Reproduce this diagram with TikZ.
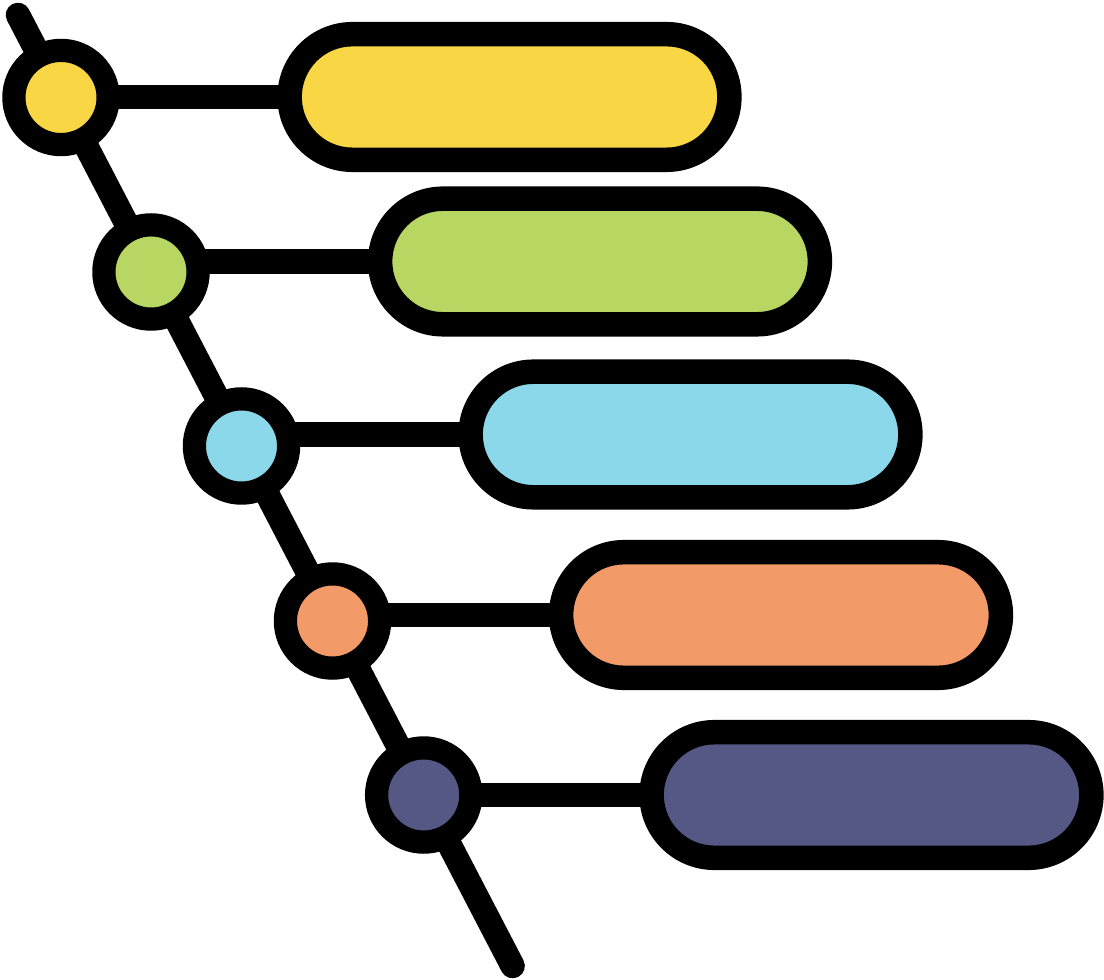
\documentclass[tikz,border=0pt]{standalone}
\usepackage{tikz}
\usetikzlibrary{shapes.misc,backgrounds,calc}
\usepackage{xcolor}
\definecolor{tlyellow}{HTML}{F9D643}
\definecolor{tlgreen}{HTML}{B8D662}
\definecolor{tlblue}{HTML}{8BD8EA}
\definecolor{tlorange}{HTML}{F29A68}
\definecolor{tlpurple}{HTML}{555885}

\begin{document}
\begin{tikzpicture}[x=0.01cm,y=-0.01cm,
  dot/.style={circle,draw=black,line width=0.232cm,minimum size=0.942cm,inner sep=0pt},
  bar/.style={rounded rectangle,draw=black,line width=0.245cm,minimum width=4.395cm,minimum height=1.255cm,inner sep=0pt},
  link/.style={line width=0.245cm}]
\useasboundingbox (0,0) rectangle (1104,980);
% dots on the line
\foreach \i/\x/\y/\c in {1/61/97.5/tlyellow,2/151/272/tlgreen,3/241.5/446/tlblue,4/332.5/621/tlorange,5/423.7/795/tlpurple}
    \node[dot,fill=\c] (c\i) at (\x,\y) {};
% bars
\foreach \i/\x/\y/\c in {1/509.5/97/tlyellow,2/600/261.5/tlgreen,3/690.5/434.5/tlblue,4/781/615/tlorange,5/871.5/795/tlpurple}
    \node[bar,fill=\c] (p\i) at (\x,\y) {};
\begin{scope}[on background layer]
\coordinate (top) at (18,15);
\coordinate (bottom) at (512.6,966);
\draw[link,line cap=round] (top) -- (bottom);
\foreach \i in {1,...,5}
    \draw[link] (p\i.center) -- (p\i.center -| c\i);
\end{scope}
\end{tikzpicture}
\end{document}
